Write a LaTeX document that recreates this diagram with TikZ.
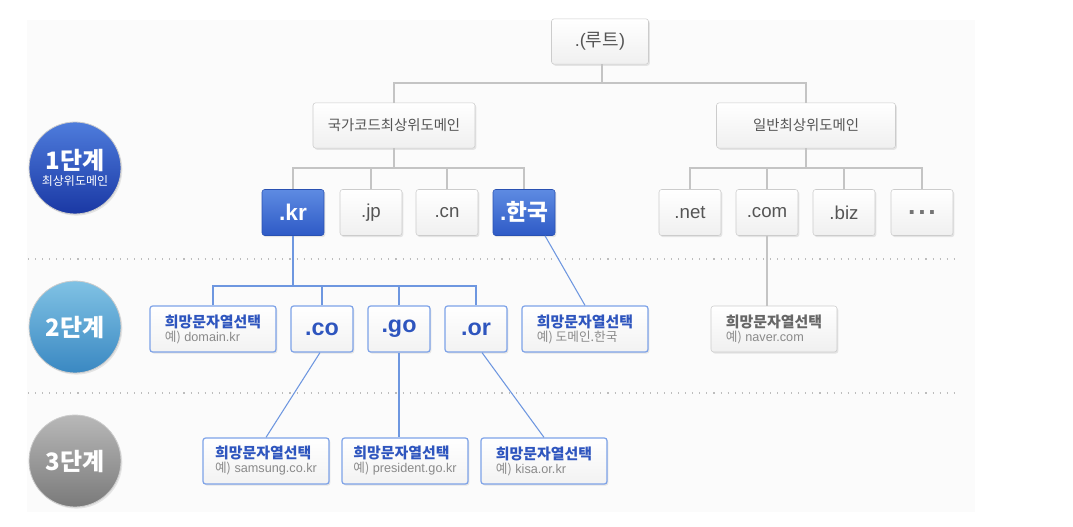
\documentclass[tikz,border=0pt]{standalone}
\usepackage{fontspec}
\setmainfont{Liberation Sans}
\newfontfamily\kr{Noto Sans CJK KR}
\usetikzlibrary{shadows,calc}
\definecolor{glinec}{HTML}{C4C4C4}
\definecolor{blinec}{HTML}{6E97E0}
\definecolor{btext}{HTML}{2E55BE}
\definecolor{gtext}{HTML}{555555}
\definecolor{etext}{HTML}{8A8A8A}
\definecolor{bfillT}{HTML}{5E8BE2}
\definecolor{bfillB}{HTML}{2E5AC6}
\definecolor{bborder}{HTML}{7DA2E8}
\definecolor{bgpale}{HTML}{FBFBFB}
\definecolor{dotc}{HTML}{BDBDBD}
\tikzset{
  shad/.style={drop shadow={opacity=0.18, shadow xshift=1pt, shadow yshift=-1.2pt}},
  gbox/.style={shad, draw=black!20, rounded corners=2pt, top color=white, bottom color=black!6,
    text=gtext, inner sep=0pt, minimum height=34pt},
  bbox/.style={shad, draw=bfillB!90!black, rounded corners=2pt, top color=bfillT, bottom color=bfillB,
    text=white, inner sep=0pt, minimum width=46.5pt, minimum height=34.5pt,
    font=\fontsize{17}{19}\selectfont\bfseries},
  obox/.style={shad, draw=bborder, line width=0.9pt, rounded corners=2pt, top color=white, bottom color=black!5,
    text=btext, inner sep=0pt, minimum height=34.5pt},
  small/.style={minimum width=46.5pt, minimum height=34.5pt},
  wish/.style={minimum width=94.5pt, minimum height=34.5pt, align=left},
  gline/.style={draw=glinec, line width=0.8pt},
  bline/.style={draw=blinec, line width=0.8pt},
  dotline/.style={draw=dotc, line width=0.8pt, dash pattern=on 0.8pt off 4.5pt},
  circ/.style={circle, minimum size=69pt, inner sep=0pt, draw=white!80!black, line width=0.6pt,
    text=white, align=center, shad},
}
\newcommand{\wishtxt}[2]{{\kr\bfseries\fontsize{11.2}{12.5}\selectfont #1}\\[-1.5pt]{\color{etext}\fontsize{9.5}{10.5}\selectfont #2}}
\begin{document}
\begin{tikzpicture}[x=0.75pt,y=-0.75pt]
\useasboundingbox (0,0) rectangle (1073,527);
\fill[bgpale] (27,20) rectangle (975,512);

% stage circles
\node[circ, top color={rgb,255:red,78;green,124;blue,220}, bottom color={rgb,255:red,26;green,56;blue,164}] (st1) at (75,168)
  {{\kr\bfseries\fontsize{18}{20}\selectfont 1단계}\\[0pt]{\kr\fontsize{9}{10}\selectfont 최상위도메인}};
\node[circ, top color={rgb,255:red,128;green,194;blue,228}, bottom color={rgb,255:red,58;green,136;blue,194}] (st2) at (75,327)
  {{\kr\bfseries\fontsize{18}{20}\selectfont 2단계}};
\node[circ, top color={rgb,255:red,184;green,184;blue,184}, bottom color={rgb,255:red,122;green,122;blue,122}] (st3) at (75,461)
  {{\kr\bfseries\fontsize{18}{20}\selectfont 3단계}};

% dotted separators
\coordinate (d1a) at (28,259); \coordinate (d1b) at (958,259);
\coordinate (d2a) at (28,393); \coordinate (d2b) at (958,393);
\draw[dotline] (d1a) -- (d1b);
\draw[dotline] (d2a) -- (d2b);

% root and TLD groups
\node[gbox, minimum width=72.75pt, font=\fontsize{13.5}{15}\selectfont] (root) at (600,41.5) {.({\kr 루트})};
\node[gbox, minimum width=121.5pt, font=\kr\fontsize{10.8}{12}\selectfont] (kc) at (394,125.5) {국가코드최상위도메인};
\node[gbox, minimum width=134.25pt, font=\kr\fontsize{10.8}{12}\selectfont] (gen) at (806,125.5) {일반최상위도메인};

% level 1
\node[bbox] (kr) at (293,212.5) {.kr};
\node[gbox, small, font=\fontsize{14}{16}\selectfont] (jp) at (371,212.5) {.jp};
\node[gbox, small, font=\fontsize{14}{16}\selectfont] (cn) at (447,212.5) {.cn};
\node[bbox] (hk) at (524,212.5) {.{\kr 한국}};
\node[gbox, small, font=\fontsize{14}{16}\selectfont] (net) at (690,212.5) {.net};
\node[gbox, small, font=\fontsize{14}{16}\selectfont] (com) at (767,212.5) {.com};
\node[gbox, small, font=\fontsize{14}{16}\selectfont] (biz) at (844,212.5) {.biz};
\node[gbox, small, font=\fontsize{20}{22}\selectfont\bfseries, text=black!55, text height=0pt, text depth=0pt] (dots) at (922,212.5) {\raisebox{-1.5pt}{.\kern2pt.\kern2pt.}};

% level 2
\node[obox, wish] (w1) at (213,329) {\wishtxt{희망문자열선택}{{\kr 예)} domain.kr}};
\node[obox, small, font=\fontsize{17.5}{19}\selectfont\bfseries] (co) at (322,329) {.co};
\node[obox, small, font=\fontsize{17.5}{19}\selectfont\bfseries] (go) at (399,329) {.go};
\node[obox, small, font=\fontsize{17.5}{19}\selectfont\bfseries] (or) at (476,329) {.or};
\node[obox, wish] (w2) at (585,329) {\wishtxt{희망문자열선택}{{\kr 예) 도메인.한국}}};
\node[gbox, wish, minimum height=34.5pt, text=black!60] (nv) at (774,329) {\wishtxt{희망문자열선택}{{\kr 예)} naver.com}};

% level 3
\node[obox, wish] (s1) at (266,461) {\wishtxt{희망문자열선택}{{\kr 예)} samsung.co.kr}};
\node[obox, wish] (p1) at (405,461) {\wishtxt{희망문자열선택}{{\kr 예)} president.go.kr}};
\node[obox, wish] (k1) at (544,461) {\wishtxt{희망문자열선택}{{\kr 예)} kisa.or.kr}};

% connectors
\coordinate (j0) at (602,83);
\coordinate (j1) at (394,168);
\coordinate (j2) at (806,168);
\coordinate (j3) at (293,286);
\draw[gline] ([xshift=1.5pt]root.south) -- (j0);
\draw[gline] (kc.north) |- (j0) -| (gen.north);
\draw[gline] (kc.south) -- (j1);
\draw[gline] (kr.north) |- (j1) -| (hk.north);
\draw[gline] (jp.north) -- (jp.north |- j1);
\draw[gline] (cn.north) -- (cn.north |- j1);
\draw[gline] (gen.south) -- (j2);
\draw[gline] (net.north) |- (j2) -| (dots.north);
\draw[gline] (com.north) -- (com.north |- j2);
\draw[gline] (biz.north) -- (biz.north |- j2);
\draw[gline] (com.south) -- (com.south |- nv.north);
\draw[bline] (kr.south) -- (j3);
\draw[bline] (w1.north) |- (j3) -| (or.north);
\draw[bline] (co.north) -- (co.north |- j3);
\draw[bline] (go.north) -- (go.north |- j3);
\draw[bline] ([xshift=15.75pt]hk.south) -- (w2.north);
\draw[bline] ([xshift=-1.5pt]co.south) -- (s1.north);
\draw[bline] (go.south) -- (go.south |- p1.north);
\draw[bline] ([xshift=4.5pt]or.south) -- (k1.north);
\end{tikzpicture}
\end{document}
